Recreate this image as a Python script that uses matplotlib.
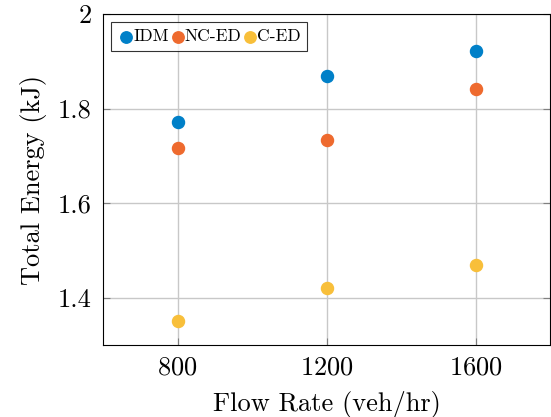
import matplotlib
matplotlib.use("Agg")
import matplotlib.pyplot as plt

# --- data ---
flow_rates = [800, 1200, 1600]
idm = [1.772, 1.869, 1.922]
nc_ed = [1.717, 1.734, 1.842]
c_ed = [1.350, 1.421, 1.470]

plt.rcParams['font.family'] = 'serif'
plt.rcParams['font.serif'] = ['cmr10']
plt.rcParams['mathtext.fontset'] = 'cm'
plt.rcParams['axes.formatter.use_mathtext'] = True

fig = plt.figure(figsize=(5.51, 4.17), dpi=100)
ax = fig.add_axes([103/551, 1 - 345/417, (550 - 103)/551, (345 - 14)/417])

ax.scatter(flow_rates, idm, s=75, color='#0080C8', label='IDM', zorder=3)
ax.scatter(flow_rates, nc_ed, s=75, color='#EE6A2E', label='NC-ED', zorder=3)
ax.scatter(flow_rates, c_ed, s=75, color='#F8BF3A', label='C-ED', zorder=3)

ax.set_xlim(600, 1800)
ax.set_ylim(1.3, 2.0)
ax.set_xticks(flow_rates)
ax.set_yticks([1.4, 1.6, 1.8, 2.0])
ax.set_yticklabels(['1.4', '1.6', '1.8', '2'])
ax.grid(True, color='#c8c8c8', linewidth=1)
ax.set_axisbelow(True)
ax.tick_params(direction='in', length=5, color='#808080', labelsize=19,
               right=True, top=False, pad=8)
for sp in ax.spines.values():
    sp.set_linewidth(0.8)

ax.set_xlabel('Flow Rate (veh/hr)', fontsize=19, labelpad=8)
ax.set_ylabel('Total Energy (kJ)', fontsize=19, labelpad=8)

leg = ax.legend(loc='upper left', ncol=3, fontsize=12.5, frameon=True,
                fancybox=False, edgecolor='black', handletextpad=-0.1,
                columnspacing=0.0, handlelength=1.0, borderpad=0.4,
                borderaxespad=0.45, markerscale=0.95)
leg.get_frame().set_linewidth(0.8)

fig.savefig('out.png', dpi=100)
